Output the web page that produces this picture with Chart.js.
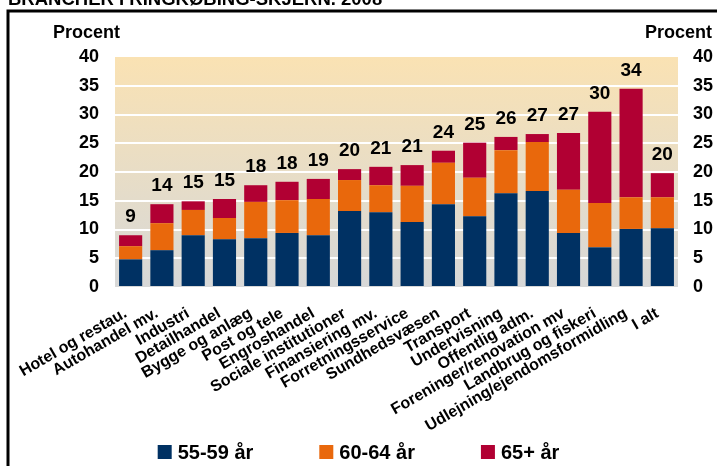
<!DOCTYPE html>
<html>
<head>
<meta charset="utf-8">
<script src="https://cdn.jsdelivr.net/npm/chart.js@4/dist/chart.umd.min.js"></script>
<style>
  html, body { margin: 0; padding: 0; background: #fff; }
  #wrap { position: relative; width: 717px; height: 466px; }
</style>
</head>
<body>
<div id="wrap"><canvas id="chart" width="717" height="466"></canvas></div>
<script>
const title = "BRANCHER I RINGKØBING-SKJERN. 2008";
const axisTitle = "Procent";
const categories = [
  "Hotel og restau.", "Autohandel mv.", "Industri", "Detailhandel", "Bygge og anlæg",
  "Post og tele", "Engroshandel", "Sociale institutioner", "Finansiering mv.",
  "Forretningsservice", "Sundhedsvæsen", "Transport", "Undervisning", "Offentlig adm.",
  "Foreninger/renovation mv", "Landbrug og fiskeri", "Udlejning/ejendomsformidling", "I alt"
];
const seriesNames = ["55-59 år", "60-64 år", "65+ år"];
const age5559 = [4.8, 6.4, 9.0, 8.3, 8.5, 9.4, 9.0, 13.2, 13.0, 11.3, 14.4, 12.3, 16.3, 16.7, 9.4, 6.9, 10.1, 10.2];
const age6064 = [2.3, 4.7, 4.4, 3.7, 6.3, 5.7, 6.3, 5.4, 4.7, 6.3, 7.2, 6.7, 7.5, 8.5, 7.5, 7.7, 5.5, 5.4];
const age65 = [1.9, 3.3, 1.5, 3.3, 2.9, 3.2, 3.5, 1.9, 3.2, 3.6, 2.1, 6.1, 2.3, 1.4, 9.9, 15.9, 18.9, 4.2];
const totalLabels = ["9", "14", "15", "15", "18", "18", "19", "20", "21", "21", "24", "25", "26", "27", "27", "30", "34", "20"];
const yMin = 0;
const yMax = 40;
const yStep = 5;

const colors = ["#003163", "#e9680c", "#b10033"];
const font = "'Liberation Sans', Arial, sans-serif";

// background gradient, frame, title and "Procent" labels
const decor = {
  id: "decor",
  beforeDraw(chart) {
    const { ctx, chartArea: a } = chart;
    ctx.save();
    const g = ctx.createLinearGradient(0, a.top, 0, a.bottom);
    g.addColorStop(0, "#fae2b3");
    g.addColorStop(0.5, "#e8ddc6");
    g.addColorStop(1, "#d7d8d8");
    ctx.fillStyle = g;
    ctx.fillRect(a.left, a.top, a.right - a.left, a.bottom - a.top);

    ctx.strokeStyle = "#000";
    ctx.lineWidth = 3;
    ctx.beginPath();
    ctx.moveTo(8, chart.height);
    ctx.lineTo(8, 11);
    ctx.lineTo(chart.width, 11);
    ctx.stroke();

    ctx.fillStyle = "#000";
    ctx.font = `bold 18.5px ${font}`;
    ctx.textBaseline = "alphabetic";
    ctx.textAlign = "left";
    ctx.fillText(title, 8, 5);

    ctx.font = `bold 18px ${font}`;
    ctx.fillText(axisTitle, a.left - 62, 38);
    ctx.textAlign = "right";
    ctx.fillText(axisTitle, a.right + 34, 38);
    ctx.restore();
  },
  afterDatasetsDraw(chart) {
    const { ctx } = chart;
    const top = chart.getDatasetMeta(chart.data.datasets.length - 1);
    ctx.save();
    ctx.fillStyle = "#000";
    ctx.font = `bold 19px ${font}`;
    ctx.textAlign = "center";
    ctx.textBaseline = "alphabetic";
    top.data.forEach((bar, i) => {
      ctx.fillText(totalLabels[i], bar.x, bar.y - 13);
    });
    ctx.restore();
  },
  afterDraw(chart) {
    // legend
    const { ctx } = chart;
    ctx.save();
    ctx.font = `bold 20px ${font}`;
    const box = 14, gap = 6, spacing = 66;
    const widths = chart.data.datasets.map((d) => box + gap + ctx.measureText(d.label).width);
    const total = widths.reduce((s, w) => s + w, 0) + spacing * (widths.length - 1);
    let x = chart.width / 2 - total / 2;
    const y = 452;
    chart.data.datasets.forEach((d, i) => {
      ctx.fillStyle = d.backgroundColor;
      ctx.fillRect(x, y - box / 2, box, box);
      ctx.fillStyle = "#000";
      ctx.textBaseline = "middle";
      ctx.fillText(d.label, x + box + gap, y + 1);
      x += widths[i] + spacing;
    });
    ctx.restore();
  }
};

const tickFont = { family: font, size: 18, weight: "bold" };

new Chart(document.getElementById("chart"), {
  type: "bar",
  data: {
    labels: categories,
    datasets: [
      { label: seriesNames[0], data: age5559, backgroundColor: colors[0] },
      { label: seriesNames[1], data: age6064, backgroundColor: colors[1] },
      { label: seriesNames[2], data: age65, backgroundColor: colors[2] }
    ]
  },
  options: {
    responsive: false,
    animation: false,
    layout: { padding: { top: 57, left: 0, right: 0, bottom: 0 } },
    datasets: { bar: { barPercentage: 0.74, categoryPercentage: 1 } },
    plugins: { legend: { display: false }, tooltip: { enabled: false } },
    scales: {
      x: {
        stacked: true,
        grid: { display: false, drawTicks: false },
        border: { display: false },
        ticks: {
          autoSkip: false, minRotation: 30, maxRotation: 30, padding: 17, labelOffset: -5,
          color: "#000", font: { family: font, size: 16, weight: "bold" }
        },
        afterFit: (s) => { s.height = 179; }
      },
      y: {
        stacked: true, min: yMin, max: yMax, position: "left",
        grid: {
          drawTicks: false, lineWidth: 2,
          color: (c) => (c.tick && (c.tick.value === yMin || c.tick.value === yMax) ? "rgba(0,0,0,0)" : "#ffffff")
        },
        border: { display: false },
        ticks: { stepSize: yStep, padding: 16, color: "#000", font: tickFont },
        afterFit: (s) => { s.width = 115; }
      },
      y2: {
        min: yMin, max: yMax, position: "right",
        grid: { display: false, drawTicks: false },
        border: { display: false },
        ticks: { stepSize: yStep, padding: 15, color: "#000", font: tickFont },
        afterFit: (s) => { s.width = 39; }
      }
    }
  },
  plugins: [decor]
});
</script>
</body>
</html>
